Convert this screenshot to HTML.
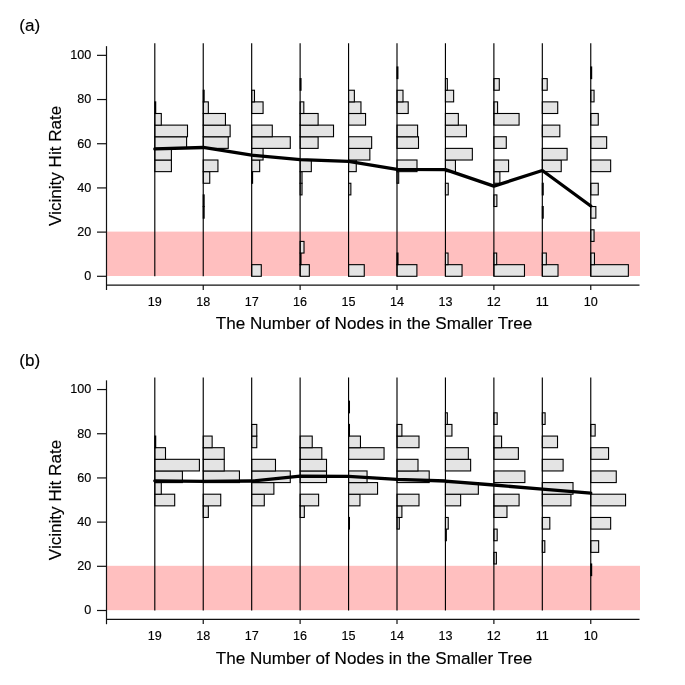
<!DOCTYPE html>
<html><head><meta charset="utf-8"><title>Vicinity Hit Rate</title>
<style>
html,body{margin:0;padding:0;background:#fff}
svg{display:block}
text{font-family:"Liberation Sans",Arial,sans-serif;fill:#000;stroke:#000;stroke-width:0.15px}
.tl{font-size:12.6px}
.ti{font-size:17.1px}
.pl{font-size:17.1px}
.b{fill:#e4e4e4;stroke:#000;stroke-width:1.1}
.v{stroke:#000;stroke-width:1.15}
.ax{stroke:#111;stroke-width:1.2}
.m{fill:none;stroke:#000;stroke-width:3.3;stroke-linejoin:round;stroke-linecap:round}
</style></head><body>
<svg width="685" height="685" viewBox="0 0 685 685">
<rect width="685" height="685" fill="#fff"/>
<rect x="106.9" y="231.61" width="533.10" height="44.39" fill="#ffbfbf"/>
<rect x="154.80" y="160.01" width="16.60" height="11.63" class="b"/>
<rect x="154.80" y="148.38" width="16.60" height="11.63" class="b"/>
<rect x="154.80" y="136.75" width="31.80" height="11.63" class="b"/>
<rect x="154.80" y="125.12" width="32.70" height="11.63" class="b"/>
<rect x="154.80" y="113.49" width="6.50" height="11.63" class="b"/>
<rect x="154.80" y="101.87" width="0.90" height="11.63" class="b"/>
<rect x="203.24" y="206.53" width="0.90" height="11.63" class="b"/>
<rect x="203.24" y="194.90" width="0.90" height="11.63" class="b"/>
<rect x="203.24" y="171.64" width="6.50" height="11.63" class="b"/>
<rect x="203.24" y="160.01" width="14.70" height="11.63" class="b"/>
<rect x="203.24" y="136.75" width="25.00" height="11.63" class="b"/>
<rect x="203.24" y="125.12" width="26.90" height="11.63" class="b"/>
<rect x="203.24" y="113.49" width="22.20" height="11.63" class="b"/>
<rect x="203.24" y="101.87" width="5.10" height="11.63" class="b"/>
<rect x="203.24" y="90.24" width="0.90" height="11.63" class="b"/>
<rect x="251.68" y="264.67" width="9.60" height="11.63" class="b"/>
<rect x="251.68" y="171.64" width="0.90" height="11.63" class="b"/>
<rect x="251.68" y="160.01" width="8.00" height="11.63" class="b"/>
<rect x="251.68" y="148.38" width="11.40" height="11.63" class="b"/>
<rect x="251.68" y="136.75" width="38.60" height="11.63" class="b"/>
<rect x="251.68" y="125.12" width="20.60" height="11.63" class="b"/>
<rect x="251.68" y="101.87" width="11.40" height="11.63" class="b"/>
<rect x="251.68" y="90.24" width="2.80" height="11.63" class="b"/>
<rect x="300.12" y="264.67" width="9.20" height="11.63" class="b"/>
<rect x="300.12" y="253.04" width="0.90" height="11.63" class="b"/>
<rect x="300.12" y="241.41" width="3.90" height="11.63" class="b"/>
<rect x="300.12" y="183.27" width="1.90" height="11.63" class="b"/>
<rect x="300.12" y="171.64" width="1.90" height="11.63" class="b"/>
<rect x="300.12" y="160.01" width="11.20" height="11.63" class="b"/>
<rect x="300.12" y="136.75" width="18.00" height="11.63" class="b"/>
<rect x="300.12" y="125.12" width="33.40" height="11.63" class="b"/>
<rect x="300.12" y="113.49" width="18.00" height="11.63" class="b"/>
<rect x="300.12" y="101.87" width="3.70" height="11.63" class="b"/>
<rect x="300.12" y="78.61" width="0.90" height="11.63" class="b"/>
<rect x="348.56" y="264.67" width="15.70" height="11.63" class="b"/>
<rect x="348.56" y="183.27" width="2.30" height="11.63" class="b"/>
<rect x="348.56" y="160.01" width="7.70" height="11.63" class="b"/>
<rect x="348.56" y="148.38" width="21.30" height="11.63" class="b"/>
<rect x="348.56" y="136.75" width="23.10" height="11.63" class="b"/>
<rect x="348.56" y="113.49" width="17.00" height="11.63" class="b"/>
<rect x="348.56" y="101.87" width="12.40" height="11.63" class="b"/>
<rect x="348.56" y="90.24" width="5.80" height="11.63" class="b"/>
<rect x="397.00" y="264.67" width="19.90" height="11.63" class="b"/>
<rect x="397.00" y="253.04" width="1.00" height="11.63" class="b"/>
<rect x="397.00" y="171.64" width="1.70" height="11.63" class="b"/>
<rect x="397.00" y="160.01" width="20.00" height="11.63" class="b"/>
<rect x="397.00" y="136.75" width="21.50" height="11.63" class="b"/>
<rect x="397.00" y="125.12" width="20.60" height="11.63" class="b"/>
<rect x="397.00" y="101.87" width="11.20" height="11.63" class="b"/>
<rect x="397.00" y="90.24" width="6.00" height="11.63" class="b"/>
<rect x="397.00" y="66.98" width="0.90" height="11.63" class="b"/>
<rect x="445.44" y="264.67" width="16.60" height="11.63" class="b"/>
<rect x="445.44" y="253.04" width="2.60" height="11.63" class="b"/>
<rect x="445.44" y="183.27" width="2.80" height="11.63" class="b"/>
<rect x="445.44" y="160.01" width="10.00" height="11.63" class="b"/>
<rect x="445.44" y="148.38" width="26.90" height="11.63" class="b"/>
<rect x="445.44" y="125.12" width="21.00" height="11.63" class="b"/>
<rect x="445.44" y="113.49" width="12.90" height="11.63" class="b"/>
<rect x="445.44" y="90.24" width="8.20" height="11.63" class="b"/>
<rect x="445.44" y="78.61" width="1.90" height="11.63" class="b"/>
<rect x="493.88" y="264.67" width="30.60" height="11.63" class="b"/>
<rect x="493.88" y="253.04" width="2.80" height="11.63" class="b"/>
<rect x="493.88" y="194.90" width="3.00" height="11.63" class="b"/>
<rect x="493.88" y="171.64" width="6.00" height="11.63" class="b"/>
<rect x="493.88" y="160.01" width="14.70" height="11.63" class="b"/>
<rect x="493.88" y="136.75" width="12.40" height="11.63" class="b"/>
<rect x="493.88" y="113.49" width="25.20" height="11.63" class="b"/>
<rect x="493.88" y="101.87" width="3.70" height="11.63" class="b"/>
<rect x="493.88" y="78.61" width="5.40" height="11.63" class="b"/>
<rect x="542.32" y="264.67" width="15.70" height="11.63" class="b"/>
<rect x="542.32" y="253.04" width="4.00" height="11.63" class="b"/>
<rect x="542.32" y="206.53" width="0.90" height="11.63" class="b"/>
<rect x="542.32" y="183.27" width="0.90" height="11.63" class="b"/>
<rect x="542.32" y="160.01" width="18.90" height="11.63" class="b"/>
<rect x="542.32" y="148.38" width="24.80" height="11.63" class="b"/>
<rect x="542.32" y="125.12" width="17.50" height="11.63" class="b"/>
<rect x="542.32" y="101.87" width="15.40" height="11.63" class="b"/>
<rect x="542.32" y="78.61" width="4.90" height="11.63" class="b"/>
<rect x="590.76" y="264.67" width="37.60" height="11.63" class="b"/>
<rect x="590.76" y="253.04" width="3.70" height="11.63" class="b"/>
<rect x="590.76" y="229.78" width="3.30" height="11.63" class="b"/>
<rect x="590.76" y="206.53" width="5.10" height="11.63" class="b"/>
<rect x="590.76" y="183.27" width="7.50" height="11.63" class="b"/>
<rect x="590.76" y="160.01" width="19.90" height="11.63" class="b"/>
<rect x="590.76" y="136.75" width="15.90" height="11.63" class="b"/>
<rect x="590.76" y="113.49" width="7.50" height="11.63" class="b"/>
<rect x="590.76" y="90.24" width="3.30" height="11.63" class="b"/>
<rect x="590.76" y="66.98" width="0.90" height="11.63" class="b"/>
<line x1="154.80" y1="43.25" x2="154.80" y2="276.30" class="v"/>
<line x1="203.24" y1="43.25" x2="203.24" y2="276.30" class="v"/>
<line x1="251.68" y1="43.25" x2="251.68" y2="276.30" class="v"/>
<line x1="300.12" y1="43.25" x2="300.12" y2="276.30" class="v"/>
<line x1="348.56" y1="43.25" x2="348.56" y2="276.30" class="v"/>
<line x1="397.00" y1="43.25" x2="397.00" y2="276.30" class="v"/>
<line x1="445.44" y1="43.25" x2="445.44" y2="276.30" class="v"/>
<line x1="493.88" y1="43.25" x2="493.88" y2="276.30" class="v"/>
<line x1="542.32" y1="43.25" x2="542.32" y2="276.30" class="v"/>
<line x1="590.76" y1="43.25" x2="590.76" y2="276.30" class="v"/>
<polyline points="154.80,148.92 203.24,147.49 251.68,155.22 300.12,159.64 348.56,161.41 397.00,169.36 445.44,169.58 493.88,186.15 542.32,170.46 590.76,206.04" class="m"/>
<line x1="106.5" y1="46.15" x2="106.5" y2="290.00" class="ax"/>
<line x1="97" y1="276.30" x2="106.5" y2="276.30" class="ax"/>
<text x="91.3" y="280.20" class="tl" text-anchor="end">0</text>
<line x1="97" y1="232.11" x2="106.5" y2="232.11" class="ax"/>
<text x="91.3" y="236.01" class="tl" text-anchor="end">20</text>
<line x1="97" y1="187.92" x2="106.5" y2="187.92" class="ax"/>
<text x="91.3" y="191.82" class="tl" text-anchor="end">40</text>
<line x1="97" y1="143.73" x2="106.5" y2="143.73" class="ax"/>
<text x="91.3" y="147.63" class="tl" text-anchor="end">60</text>
<line x1="97" y1="99.54" x2="106.5" y2="99.54" class="ax"/>
<text x="91.3" y="103.44" class="tl" text-anchor="end">80</text>
<line x1="97" y1="55.35" x2="106.5" y2="55.35" class="ax"/>
<text x="91.3" y="59.25" class="tl" text-anchor="end">100</text>
<line x1="106.2" y1="285.10" x2="639.5" y2="285.10" class="ax"/>
<line x1="203.24" y1="285.10" x2="203.24" y2="289.90" class="ax"/>
<line x1="300.12" y1="285.10" x2="300.12" y2="289.90" class="ax"/>
<line x1="397.00" y1="285.10" x2="397.00" y2="289.90" class="ax"/>
<line x1="493.88" y1="285.10" x2="493.88" y2="289.90" class="ax"/>
<line x1="590.76" y1="285.10" x2="590.76" y2="289.90" class="ax"/>
<text x="154.80" y="306.00" class="tl" text-anchor="middle">19</text>
<text x="203.24" y="306.00" class="tl" text-anchor="middle">18</text>
<text x="251.68" y="306.00" class="tl" text-anchor="middle">17</text>
<text x="300.12" y="306.00" class="tl" text-anchor="middle">16</text>
<text x="348.56" y="306.00" class="tl" text-anchor="middle">15</text>
<text x="397.00" y="306.00" class="tl" text-anchor="middle">14</text>
<text x="445.44" y="306.00" class="tl" text-anchor="middle">13</text>
<text x="493.88" y="306.00" class="tl" text-anchor="middle">12</text>
<text x="542.32" y="306.00" class="tl" text-anchor="middle">11</text>
<text x="590.76" y="306.00" class="tl" text-anchor="middle">10</text>
<text x="374" y="329.40" class="ti" text-anchor="middle">The Number of Nodes in the Smaller Tree</text>
<text transform="translate(60.8 165.83) rotate(-90)" class="ti" text-anchor="middle">Vicinity Hit Rate</text>
<text x="19.3" y="30.5" class="pl">(a)</text>
<rect x="106.9" y="565.81" width="533.10" height="44.39" fill="#ffbfbf"/>
<rect x="154.80" y="494.21" width="19.90" height="11.63" class="b"/>
<rect x="154.80" y="482.58" width="6.50" height="11.63" class="b"/>
<rect x="154.80" y="470.95" width="27.60" height="11.63" class="b"/>
<rect x="154.80" y="459.32" width="44.60" height="11.63" class="b"/>
<rect x="154.80" y="447.69" width="10.70" height="11.63" class="b"/>
<rect x="154.80" y="436.07" width="0.90" height="11.63" class="b"/>
<rect x="203.24" y="505.84" width="5.10" height="11.63" class="b"/>
<rect x="203.24" y="494.21" width="17.50" height="11.63" class="b"/>
<rect x="203.24" y="470.95" width="36.20" height="11.63" class="b"/>
<rect x="203.24" y="459.32" width="21.00" height="11.63" class="b"/>
<rect x="203.24" y="447.69" width="21.00" height="11.63" class="b"/>
<rect x="203.24" y="436.07" width="8.90" height="11.63" class="b"/>
<rect x="251.68" y="494.21" width="12.60" height="11.63" class="b"/>
<rect x="251.68" y="482.58" width="22.20" height="11.63" class="b"/>
<rect x="251.68" y="470.95" width="38.60" height="11.63" class="b"/>
<rect x="251.68" y="459.32" width="23.80" height="11.63" class="b"/>
<rect x="251.68" y="436.07" width="5.10" height="11.63" class="b"/>
<rect x="251.68" y="424.44" width="5.10" height="11.63" class="b"/>
<rect x="300.12" y="505.84" width="4.20" height="11.63" class="b"/>
<rect x="300.12" y="494.21" width="18.50" height="11.63" class="b"/>
<rect x="300.12" y="470.95" width="26.40" height="11.63" class="b"/>
<rect x="300.12" y="459.32" width="26.40" height="11.63" class="b"/>
<rect x="300.12" y="447.69" width="21.70" height="11.63" class="b"/>
<rect x="300.12" y="436.07" width="12.10" height="11.63" class="b"/>
<rect x="348.56" y="517.47" width="0.90" height="11.63" class="b"/>
<rect x="348.56" y="494.21" width="11.40" height="11.63" class="b"/>
<rect x="348.56" y="482.58" width="29.00" height="11.63" class="b"/>
<rect x="348.56" y="470.95" width="18.50" height="11.63" class="b"/>
<rect x="348.56" y="447.69" width="35.50" height="11.63" class="b"/>
<rect x="348.56" y="436.07" width="11.90" height="11.63" class="b"/>
<rect x="348.56" y="424.44" width="0.90" height="11.63" class="b"/>
<rect x="348.56" y="401.18" width="0.90" height="11.63" class="b"/>
<rect x="397.00" y="517.47" width="2.30" height="11.63" class="b"/>
<rect x="397.00" y="505.84" width="4.90" height="11.63" class="b"/>
<rect x="397.00" y="494.21" width="22.00" height="11.63" class="b"/>
<rect x="397.00" y="470.95" width="32.20" height="11.63" class="b"/>
<rect x="397.00" y="459.32" width="21.00" height="11.63" class="b"/>
<rect x="397.00" y="436.07" width="22.00" height="11.63" class="b"/>
<rect x="397.00" y="424.44" width="4.90" height="11.63" class="b"/>
<rect x="445.44" y="529.10" width="0.90" height="11.63" class="b"/>
<rect x="445.44" y="517.47" width="2.80" height="11.63" class="b"/>
<rect x="445.44" y="494.21" width="15.20" height="11.63" class="b"/>
<rect x="445.44" y="482.58" width="32.90" height="11.63" class="b"/>
<rect x="445.44" y="459.32" width="25.20" height="11.63" class="b"/>
<rect x="445.44" y="447.69" width="22.90" height="11.63" class="b"/>
<rect x="445.44" y="424.44" width="6.50" height="11.63" class="b"/>
<rect x="445.44" y="412.81" width="1.90" height="11.63" class="b"/>
<rect x="493.88" y="552.36" width="2.50" height="11.63" class="b"/>
<rect x="493.88" y="529.10" width="3.30" height="11.63" class="b"/>
<rect x="493.88" y="505.84" width="13.10" height="11.63" class="b"/>
<rect x="493.88" y="494.21" width="25.20" height="11.63" class="b"/>
<rect x="493.88" y="470.95" width="31.00" height="11.63" class="b"/>
<rect x="493.88" y="447.69" width="24.50" height="11.63" class="b"/>
<rect x="493.88" y="436.07" width="7.70" height="11.63" class="b"/>
<rect x="493.88" y="412.81" width="3.30" height="11.63" class="b"/>
<rect x="542.32" y="540.73" width="2.50" height="11.63" class="b"/>
<rect x="542.32" y="517.47" width="7.50" height="11.63" class="b"/>
<rect x="542.32" y="494.21" width="28.60" height="11.63" class="b"/>
<rect x="542.32" y="482.58" width="30.70" height="11.63" class="b"/>
<rect x="542.32" y="459.32" width="20.80" height="11.63" class="b"/>
<rect x="542.32" y="436.07" width="15.20" height="11.63" class="b"/>
<rect x="542.32" y="412.81" width="2.80" height="11.63" class="b"/>
<rect x="590.76" y="563.98" width="0.90" height="11.63" class="b"/>
<rect x="590.76" y="540.73" width="7.90" height="11.63" class="b"/>
<rect x="590.76" y="517.47" width="19.90" height="11.63" class="b"/>
<rect x="590.76" y="494.21" width="34.80" height="11.63" class="b"/>
<rect x="590.76" y="470.95" width="25.50" height="11.63" class="b"/>
<rect x="590.76" y="447.69" width="17.80" height="11.63" class="b"/>
<rect x="590.76" y="424.44" width="4.40" height="11.63" class="b"/>
<line x1="154.80" y1="377.45" x2="154.80" y2="610.50" class="v"/>
<line x1="203.24" y1="377.45" x2="203.24" y2="610.50" class="v"/>
<line x1="251.68" y1="377.45" x2="251.68" y2="610.50" class="v"/>
<line x1="300.12" y1="377.45" x2="300.12" y2="610.50" class="v"/>
<line x1="348.56" y1="377.45" x2="348.56" y2="610.50" class="v"/>
<line x1="397.00" y1="377.45" x2="397.00" y2="610.50" class="v"/>
<line x1="445.44" y1="377.45" x2="445.44" y2="610.50" class="v"/>
<line x1="493.88" y1="377.45" x2="493.88" y2="610.50" class="v"/>
<line x1="542.32" y1="377.45" x2="542.32" y2="610.50" class="v"/>
<line x1="590.76" y1="377.45" x2="590.76" y2="610.50" class="v"/>
<polyline points="154.80,480.80 203.24,481.47 251.68,481.02 300.12,476.16 348.56,476.38 397.00,479.37 445.44,481.02 493.88,485.00 542.32,489.20 590.76,493.18" class="m"/>
<line x1="106.5" y1="380.35" x2="106.5" y2="624.20" class="ax"/>
<line x1="97" y1="610.50" x2="106.5" y2="610.50" class="ax"/>
<text x="91.3" y="614.40" class="tl" text-anchor="end">0</text>
<line x1="97" y1="566.31" x2="106.5" y2="566.31" class="ax"/>
<text x="91.3" y="570.21" class="tl" text-anchor="end">20</text>
<line x1="97" y1="522.12" x2="106.5" y2="522.12" class="ax"/>
<text x="91.3" y="526.02" class="tl" text-anchor="end">40</text>
<line x1="97" y1="477.93" x2="106.5" y2="477.93" class="ax"/>
<text x="91.3" y="481.83" class="tl" text-anchor="end">60</text>
<line x1="97" y1="433.74" x2="106.5" y2="433.74" class="ax"/>
<text x="91.3" y="437.64" class="tl" text-anchor="end">80</text>
<line x1="97" y1="389.55" x2="106.5" y2="389.55" class="ax"/>
<text x="91.3" y="393.45" class="tl" text-anchor="end">100</text>
<line x1="106.2" y1="619.30" x2="639.5" y2="619.30" class="ax"/>
<line x1="203.24" y1="619.30" x2="203.24" y2="624.10" class="ax"/>
<line x1="300.12" y1="619.30" x2="300.12" y2="624.10" class="ax"/>
<line x1="397.00" y1="619.30" x2="397.00" y2="624.10" class="ax"/>
<line x1="493.88" y1="619.30" x2="493.88" y2="624.10" class="ax"/>
<line x1="590.76" y1="619.30" x2="590.76" y2="624.10" class="ax"/>
<text x="154.80" y="640.20" class="tl" text-anchor="middle">19</text>
<text x="203.24" y="640.20" class="tl" text-anchor="middle">18</text>
<text x="251.68" y="640.20" class="tl" text-anchor="middle">17</text>
<text x="300.12" y="640.20" class="tl" text-anchor="middle">16</text>
<text x="348.56" y="640.20" class="tl" text-anchor="middle">15</text>
<text x="397.00" y="640.20" class="tl" text-anchor="middle">14</text>
<text x="445.44" y="640.20" class="tl" text-anchor="middle">13</text>
<text x="493.88" y="640.20" class="tl" text-anchor="middle">12</text>
<text x="542.32" y="640.20" class="tl" text-anchor="middle">11</text>
<text x="590.76" y="640.20" class="tl" text-anchor="middle">10</text>
<text x="374" y="663.60" class="ti" text-anchor="middle">The Number of Nodes in the Smaller Tree</text>
<text transform="translate(60.8 500.02) rotate(-90)" class="ti" text-anchor="middle">Vicinity Hit Rate</text>
<text x="19.3" y="366.3" class="pl">(b)</text>
</svg>
</body></html>
